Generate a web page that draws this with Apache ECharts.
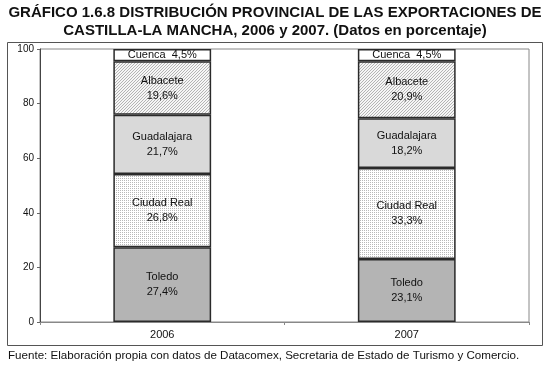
<!DOCTYPE html>
<html><head><meta charset="utf-8">
<script src="https://cdn.jsdelivr.net/npm/echarts@6/dist/echarts.min.js"></script>
<style>html,body{margin:0;padding:0;background:#fff}#c{width:550px;height:371px}</style>
</head><body><div id="c"></div>
<script>
const years = ['2006', '2007'];
const provinces = ['Toledo', 'Ciudad Real', 'Guadalajara', 'Albacete', 'Cuenca'];
const toledo = [27.4, 23.1];
const ciudadReal = [26.8, 33.3];
const guadalajara = [21.7, 18.2];
const albacete = [19.6, 20.9];
const cuenca = [4.5, 4.5];
const yTicks = [0, 20, 40, 60, 80, 100];

function pattern(size, bg, fg, pts) {
  const c = document.createElement('canvas');
  c.width = size; c.height = size;
  const g = c.getContext('2d');
  g.fillStyle = bg; g.fillRect(0, 0, size, size);
  g.fillStyle = fg;
  pts.forEach(p => g.fillRect(p[0], p[1], 1, 1));
  return { image: c, repeat: 'repeat' };
}
const hatch = pattern(3, '#f6f6f6', '#b4b4b4', [[0,2],[1,1],[2,0]]);
const dots = pattern(4, '#ffffff', '#b8b8b8', [[0,0],[2,2],[2,0],[0,2]]);

const fills = ['#b4b4b4', dots, '#d9d9d9', hatch, '#ffffff'];
const values = [toledo, ciudadReal, guadalajara, albacete, cuenca];

const fmt = v => String(v.toFixed(1)).replace('.', ',') + '%';

const chart = echarts.init(document.getElementById('c'), null, { renderer: 'canvas' });
chart.setOption({
  animation: false,
  title: {
    text: 'GRÁFICO 1.6.8 DISTRIBUCIÓN PROVINCIAL DE LAS EXPORTACIONES DE\nCASTILLA-LA MANCHA, 2006 y 2007. (Datos en porcentaje)',
    left: 'center', top: -1,
    textStyle: { fontFamily: 'Liberation Sans, Arial', fontWeight: 'bold', fontSize: 15, lineHeight: 18, color: '#111' }
  },
  graphic: [
    { type: 'rect', shape: { x: 7.5, y: 42.5, width: 535, height: 303 }, style: { fill: null, stroke: '#555', lineWidth: 1 }, z: -1 },
    { type: 'text', left: 8, top: 350, style: { text: 'Fuente: Elaboración propia con datos de Datacomex, Secretaria de Estado de Turismo y Comercio.', font: '11.6px "Liberation Sans", Arial', fill: '#111' } }
  ],
  grid: { left: 40, right: 21, top: 49, bottom: 49, show: true, borderColor: '#888', borderWidth: 1, backgroundColor: '#fff' },
  xAxis: {
    type: 'category', data: years,
    axisLine: { lineStyle: { color: '#888', width: 1 } },
    axisTick: { show: true, length: 3, lineStyle: { color: '#888' } },
    axisLabel: { color: '#111', fontSize: 11, fontFamily: 'Liberation Sans, Arial', margin: 7 }
  },
  yAxis: {
    type: 'value', min: yTicks[0], max: yTicks[yTicks.length - 1], interval: 20,
    axisLine: { show: true, lineStyle: { color: '#444', width: 1 } },
    axisTick: { show: true, length: 3, lineStyle: { color: '#666' } },
    splitLine: { show: false },
    axisLabel: { color: '#111', fontSize: 10, fontFamily: 'Liberation Sans, Arial', margin: 6 }
  },
  series: provinces.map((p, i) => ({
    name: p, type: 'bar', stack: 'total', barWidth: '40%',
    data: values[i],
    itemStyle: { color: fills[i], borderColor: '#2a2a2a', borderWidth: 1.5 },
    label: {
      show: true, position: 'inside', color: '#111', fontSize: 11, lineHeight: 15,
      fontFamily: 'Liberation Sans, Arial',
      formatter: prm => p === 'Cuenca' ? p + '  ' + fmt(prm.value) : p + '\n' + fmt(prm.value)
    }
  }))
});
</script></body></html>
